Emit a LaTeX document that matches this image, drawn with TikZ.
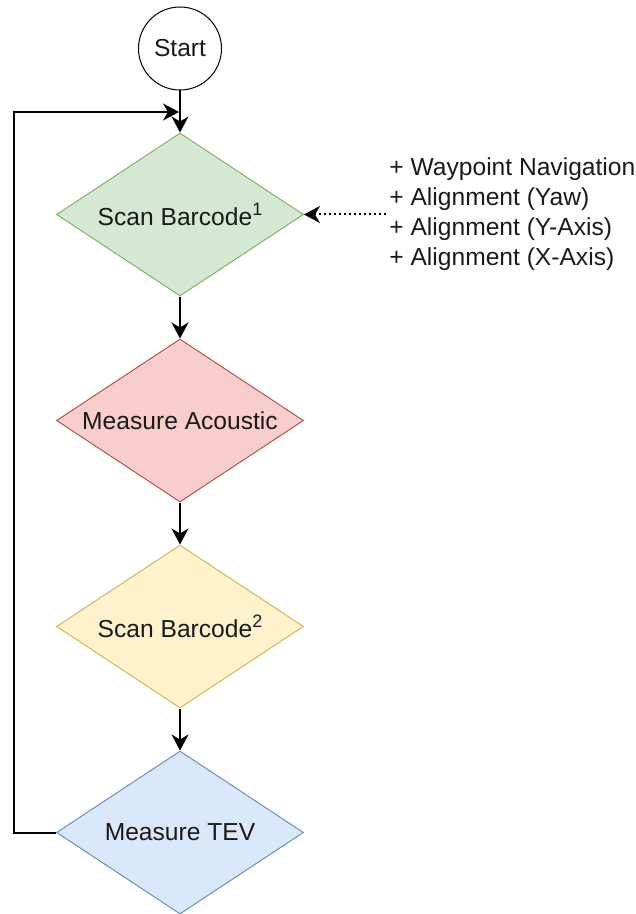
\documentclass[tikz,border=0pt]{standalone}
\usepackage{fontspec}
\setmainfont{Liberation Sans}
\usepackage{xcolor}
\usetikzlibrary{shapes.geometric, arrows.meta, positioning}

\definecolor{greenfill}{HTML}{D5E8D4}
\definecolor{greenline}{HTML}{82B366}
\definecolor{redfill}{HTML}{F8CECC}
\definecolor{redline}{HTML}{B85450}
\definecolor{yellowfill}{HTML}{FFF2CC}
\definecolor{yellowline}{HTML}{D6B656}
\definecolor{bluefill}{HTML}{DAE8FC}
\definecolor{blueline}{HTML}{6C8EBF}
\definecolor{textgray}{HTML}{1A1A1A}

\begin{document}
\begin{tikzpicture}[
    node distance=21pt,
    every node/.style={font=\fontsize{12.3}{15}\selectfont, text=textgray},
    startnode/.style={circle, draw, line width=0.5pt, minimum size=41.5pt, inner sep=0pt},
    decision/.style={diamond, draw, line width=0.5pt, shape aspect=1.515, minimum width=123.5pt, minimum height=81.5pt, inner sep=0pt, align=center},
    arrow/.style={-{Stealth[length=8pt, width=8.5pt, inset=2.5pt]}, line width=1pt}
]
\useasboundingbox (0,0) rectangle (318pt,-457pt);

\node[startnode] (start) at (90pt,-24.25pt) {Start};
\node[decision, fill=greenfill, draw=greenline, below=of start] (scan1) {Scan Barcode{\fontsize{9}{9}\selectfont\raisebox{5pt}{1}}};
\node[decision, fill=redfill, draw=redline, below=of scan1] (acoustic) {Measure Acoustic};
\node[decision, fill=yellowfill, draw=yellowline, below=of acoustic] (scan2) {Scan Barcode{\fontsize{9}{9}\selectfont\raisebox{5pt}{2}}};
\node[decision, fill=bluefill, draw=blueline, below=of scan2] (tev) {Measure TEV};

% alignment steps feeding the first scan
\node[align=left, anchor=west, inner sep=1.5pt, right=41pt of scan1] (steps)
    {+ Waypoint Navigation\\+ Alignment (Yaw)\\+ Alignment (Y-Axis)\\+ Alignment (X-Axis)};

\foreach \i/\j in {start/scan1, scan1/acoustic, acoustic/scan2, scan2/tev}
    \draw[arrow] (\i) -- (\j);

\draw[arrow, dash pattern=on 1pt off 1.5pt] (steps.west) -- (scan1.east);

% loop back to the first scan
\coordinate (merge) at (89.5pt,-56pt);
\draw[arrow] (tev.west) -- ++(-21.25pt,0) |- (merge);

\end{tikzpicture}
\end{document}
